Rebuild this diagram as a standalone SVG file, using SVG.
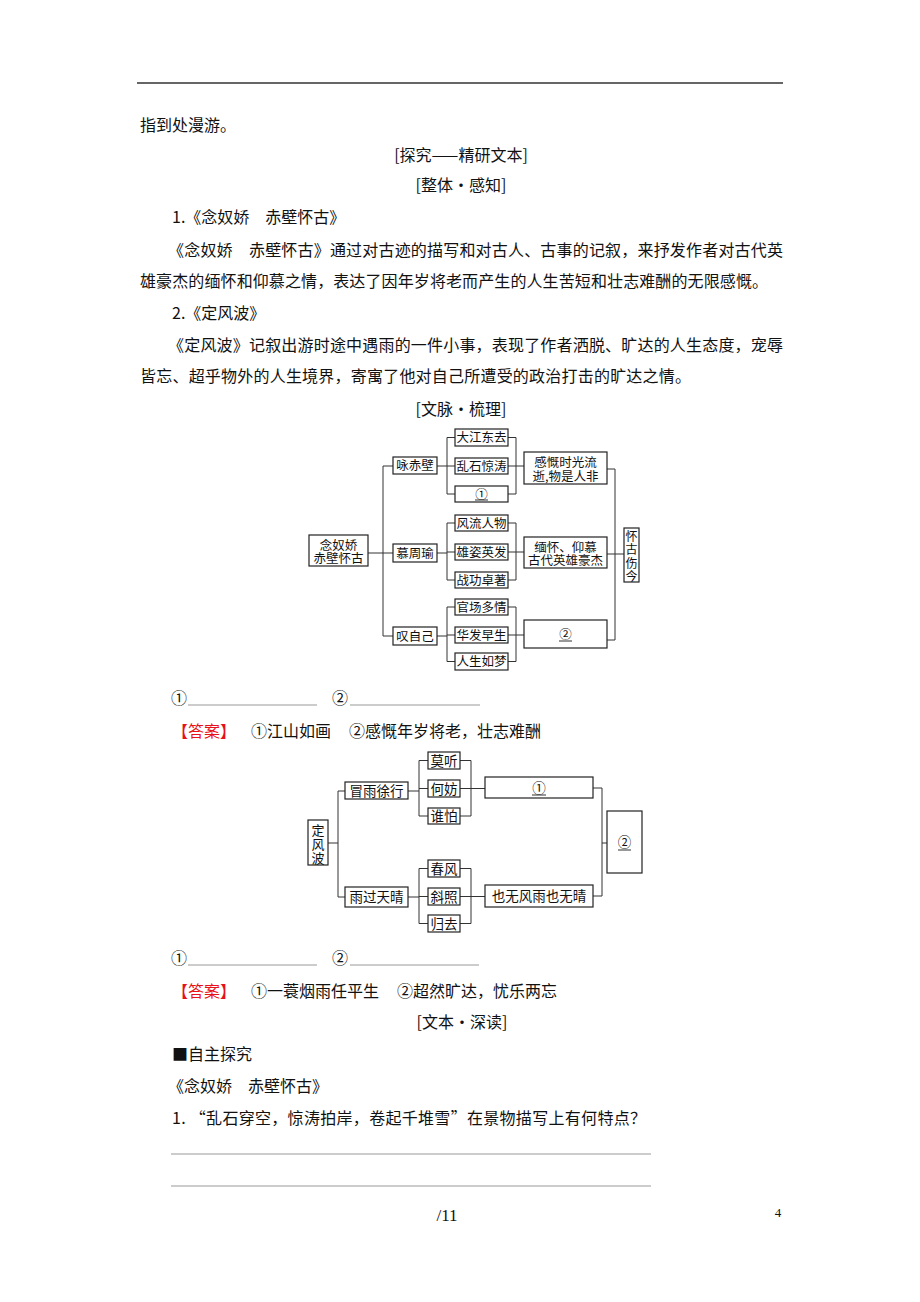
<svg xmlns="http://www.w3.org/2000/svg" width="920" height="1302" viewBox="0 0 920 1302">
<style>
.t{font-family:"Noto Sans CJK SC","Noto Sans",sans-serif;fill:#111;font-size:16px;dominant-baseline:central}
.c{text-anchor:middle}
.s13{font-size:12.5px}
.s14{font-size:13.5px}
.v{font-size:12px}
.box{fill:#fff;stroke:#222;stroke-width:1.2}
.ln{stroke:#333;stroke-width:1;fill:none}
.ul{stroke:#999;stroke-width:1;fill:none}
.red{fill:#e8101a}
.ser{font-family:"Liberation Serif",serif;fill:#111;dominant-baseline:central}
</style>
<rect width="920" height="1302" fill="#fff"/>
<line x1="137" y1="83" x2="783" y2="83" stroke="#333" stroke-width="1.5"/>

<g id="intro">
<text class="t" x="140" y="124">指到处漫游。</text>
<text class="t c" x="461" y="154">[探究——精研文本]</text>
<text class="t c" x="461" y="184">[整体・感知]</text>
<text class="t" x="172" y="216">1.《念奴娇　赤壁怀古》</text>
<text class="t" x="168" y="249" textLength="615" lengthAdjust="spacing">《念奴娇　赤壁怀古》通过对古迹的描写和对古人、古事的记叙，来抒发作者对古代英</text>
<text class="t" x="140" y="280" textLength="628" lengthAdjust="spacing">雄豪杰的缅怀和仰慕之情，表达了因年岁将老而产生的人生苦短和壮志难酬的无限感慨。</text>
<text class="t" x="172" y="312">2.《定风波》</text>
<text class="t" x="168" y="344" textLength="615" lengthAdjust="spacing">《定风波》记叙出游时途中遇雨的一件小事，表现了作者洒脱、旷达的人生态度，宠辱</text>
<text class="t" x="140" y="375" textLength="551" lengthAdjust="spacing">皆忘、超乎物外的人生境界，寄寓了他对自己所遭受的政治打击的旷达之情。</text>
<text class="t c" x="461" y="408">[文脉・梳理]</text>
</g>

<g id="connectors1">
<path class="ln" d="M368 553H393M383 466V636M383 466H393M383 636H393"/>
<path class="ln" d="M437 466H447M447 437.5V494M447 437.5H455M447 466H455M447 494H455M508 437.5H516M508 466H524M508 494H516M516 437.5V494"/>
<path class="ln" d="M437 553H447M447 523V580M447 523H455M447 552H455M447 580H455M508 523H516M508 552H524M508 580H516M516 523V580"/>
<path class="ln" d="M437 636H447M447 607V661.5M447 607H455M447 635H455M447 661.5H455M508 607H516M508 635H524M508 661.5H516M516 607V661.5"/>
<path class="ln" d="M607 469H615M607 554H624M607 640H615M615 469V640"/>
</g>

<g id="n-main"><rect class="box" x="309" y="535" width="59" height="31"/><text class="t c s13"><tspan x="338.5" y="543.5">念奴娇</tspan><tspan x="338.5" y="557">赤壁怀古</tspan></text></g>
<g id="n-yong"><rect class="box" x="393" y="457" width="44" height="17"/><text class="t c s13" x="415" y="464.5">咏赤壁</text></g>
<g id="n-mu"><rect class="box" x="393" y="544" width="44" height="18"/><text class="t c s13" x="415" y="552">慕周瑜</text></g>
<g id="n-tan"><rect class="box" x="393" y="627" width="44" height="18"/><text class="t c s13" x="415" y="635">叹自己</text></g>
<g id="n-a1"><rect class="box" x="455" y="429" width="53" height="17"/><text class="t c s13" x="481.5" y="436.5">大江东去</text></g>
<g id="n-a2"><rect class="box" x="455" y="458" width="53" height="16"/><text class="t c s13" x="481.5" y="465">乱石惊涛</text></g>
<g id="n-a3"><rect class="box" x="455" y="486" width="53" height="16"/><text class="t c s13" x="481.5" y="493">①</text><line class="ln" x1="475" y1="500" x2="488" y2="500"/></g>
<g id="n-b1"><rect class="box" x="455" y="515" width="53" height="16"/><text class="t c s13" x="481.5" y="522">风流人物</text></g>
<g id="n-b2"><rect class="box" x="455" y="544" width="53" height="16"/><text class="t c s13" x="481.5" y="551">雄姿英发</text></g>
<g id="n-b3"><rect class="box" x="455" y="572" width="53" height="16"/><text class="t c s13" x="481.5" y="579">战功卓著</text></g>
<g id="n-c1"><rect class="box" x="455" y="599" width="53" height="16"/><text class="t c s13" x="481.5" y="606">官场多情</text></g>
<g id="n-c2"><rect class="box" x="455" y="627" width="53" height="16"/><text class="t c s13" x="481.5" y="634">华发早生</text></g>
<g id="n-c3"><rect class="box" x="455" y="653" width="53" height="17"/><text class="t c s13" x="481.5" y="660.5">人生如梦</text></g>
<g id="n-gk"><rect class="box" x="524" y="452" width="83" height="32"/><text class="t c s13"><tspan x="565.5" y="461">感慨时光流</tspan><tspan x="565.5" y="474.5">逝,物是人非</tspan></text></g>
<g id="n-mh"><rect class="box" x="524" y="537" width="83" height="31"/><text class="t c s13"><tspan x="565.5" y="545.5">缅怀、仰慕</tspan><tspan x="565.5" y="559">古代英雄豪杰</tspan></text></g>
<g id="n-q2"><rect class="box" x="524" y="620" width="83" height="28"/><text class="t c s13" x="565.5" y="633">②</text><line class="ln" x1="559" y1="641" x2="572" y2="641"/></g>
<g id="n-hg"><rect class="box" x="624" y="528" width="15" height="54"/><text class="t c v"><tspan x="631.5" y="534.5">怀</tspan><tspan x="631.5" y="548">古</tspan><tspan x="631.5" y="561.5">伤</tspan><tspan x="631.5" y="575">今</tspan></text></g>

<g id="blank1">
<text class="t" x="171" y="697">①</text><line class="ul" x1="188" y1="705" x2="317" y2="705"/>
<text class="t" x="332" y="697">②</text><line class="ul" x1="350" y1="705" x2="480" y2="705"/>
<text class="t red" x="172" y="730">【答案】</text>
<text class="t" x="251" y="730">①江山如画</text>
<text class="t" x="349" y="730">②感慨年岁将老，壮志难酬</text>
</g>

<g id="connectors2">
<path class="ln" d="M328 843H338M338 791V897M338 791H345M338 897H345"/>
<path class="ln" d="M408 791H419M419 760.5V816M419 760.5H428M419 788.5H428M419 816H428M460 760.5H471M460 788.5H485M460 816H471M471 760.5V816"/>
<path class="ln" d="M408 897H419M419 868.5V923.5M419 868.5H428M419 896.5H428M419 923.5H428M460 868.5H471M460 896.5H485M460 923.5H471M471 868.5V923.5"/>
<path class="ln" d="M593 788H602M593 896H602M602 788V896M602 843H607"/>
</g>

<g id="m-dfb"><rect class="box" x="308" y="820" width="20" height="45"/><text class="t c" style="font-size:13px"><tspan x="318" y="828.5">定</tspan><tspan x="318" y="842.5">风</tspan><tspan x="318" y="856.5">波</tspan></text></g>
<g id="m-my"><rect class="box" x="345" y="782" width="63" height="17"/><text class="t c s14" x="376.5" y="789.5">冒雨徐行</text></g>
<g id="m-yg"><rect class="box" x="345" y="887" width="63" height="20"/><text class="t c s14" x="376.5" y="896">雨过天晴</text></g>
<g id="m-a1"><rect class="box" x="428" y="752" width="32" height="17"/><text class="t c s14" x="444" y="759.5">莫听</text></g>
<g id="m-a2"><rect class="box" x="428" y="780" width="32" height="17"/><text class="t c s14" x="444" y="787.5">何妨</text></g>
<g id="m-a3"><rect class="box" x="428" y="808" width="32" height="16"/><text class="t c s14" x="444" y="815">谁怕</text></g>
<g id="m-b1"><rect class="box" x="428" y="860" width="32" height="17"/><text class="t c s14" x="444" y="867.5">春风</text></g>
<g id="m-b2"><rect class="box" x="428" y="888" width="32" height="17"/><text class="t c s14" x="444" y="895.5">斜照</text></g>
<g id="m-b3"><rect class="box" x="428" y="915" width="32" height="17"/><text class="t c s14" x="444" y="922.5">归去</text></g>
<g id="m-q1"><rect class="box" x="485" y="777" width="108" height="21"/><text class="t c s14" x="539" y="786.5">①</text><line class="ln" x1="532" y1="795" x2="546" y2="795"/></g>
<g id="m-yw"><rect class="box" x="485" y="885" width="108" height="22"/><text class="t c s14" x="539" y="895">也无风雨也无晴</text></g>
<g id="m-q2"><rect class="box" x="607" y="811" width="35" height="62"/><text class="t c s14" x="624.5" y="841">②</text><line class="ln" x1="618" y1="850" x2="631" y2="850"/></g>

<g id="blank2">
<text class="t" x="171" y="957">①</text><line class="ul" x1="188" y1="965" x2="317" y2="965"/>
<text class="t" x="332" y="957">②</text><line class="ul" x1="350" y1="965" x2="479" y2="965"/>
<text class="t red" x="172" y="990">【答案】</text>
<text class="t" x="251" y="990">①一蓑烟雨任平生</text>
<text class="t" x="397" y="990">②超然旷达，忧乐两忘</text>
</g>

<g id="outro">
<text class="t c" x="462" y="1021">[文本・深读]</text>
<text class="t" x="172" y="1053">■自主探究</text>
<text class="t" x="168" y="1085">《念奴娇　赤壁怀古》</text>
<text class="t" x="172" y="1117" textLength="474" lengthAdjust="spacing">1. “乱石穿空，惊涛拍岸，卷起千堆雪”在景物描写上有何特点？</text>
<line class="ul" x1="171" y1="1154" x2="651" y2="1154"/>
<line class="ul" x1="171" y1="1186" x2="651" y2="1186"/>
<text class="ser" x="447" y="1215" font-size="17" text-anchor="middle">/11</text>
<text class="ser" x="778" y="1212" font-size="13" text-anchor="middle">4</text>
</g>
</svg>
